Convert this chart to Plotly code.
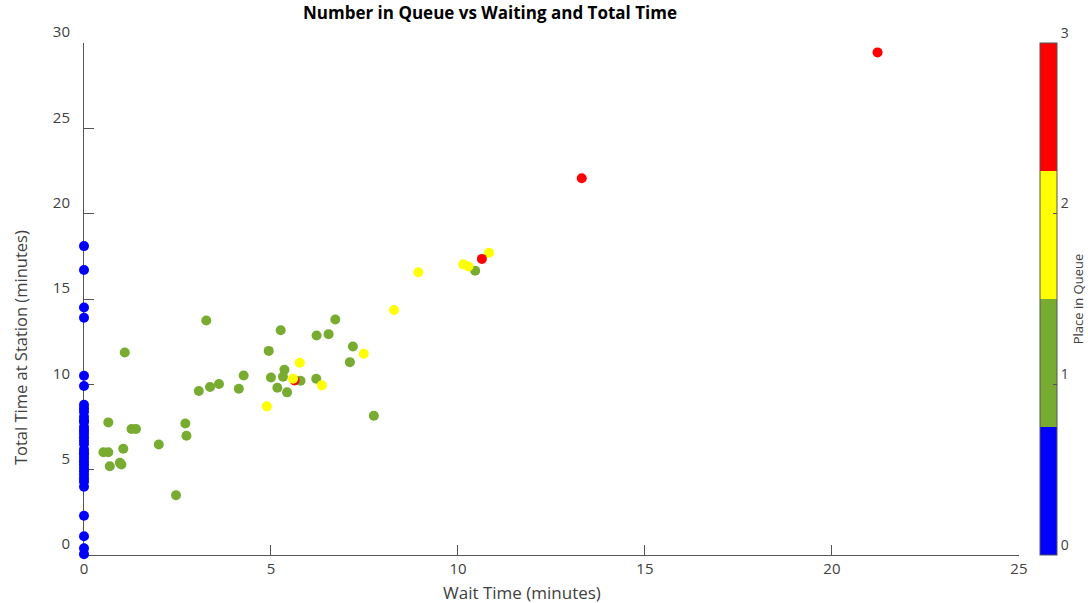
import plotly.graph_objects as go

# Place in queue 0 (no wait): wait time 0
blue_total = [18.1, 16.7, 14.5, 13.9, 10.5, 9.9,
              8.8, 8.6, 8.4, 8.1, 7.9, 7.8, 7.5, 7.3, 7.1, 6.9, 6.7, 6.5,
              6.2, 6.0, 5.9, 5.7, 5.5, 5.3, 5.1, 4.9, 4.7, 4.5, 4.3, 4.0,
              2.3, 1.1, 0.4, 0.05]
blue_wait = [0.0] * len(blue_total)

# Place in queue 1
green_wait = [1.09, 3.27, 3.07, 3.37, 3.61, 0.65, 1.27, 1.39, 2.71, 2.74, 2.0, 1.05,
              0.52, 0.65, 0.69, 0.96, 1.0, 2.46, 6.72, 5.26, 6.22, 6.54, 4.94, 7.19,
              7.11, 4.27, 4.14, 5.0, 5.36, 5.32, 6.21, 5.79, 5.17, 5.43, 7.75, 10.46]
green_total = [11.87, 13.74, 9.61, 9.84, 10.02, 7.77, 7.38, 7.38, 7.71, 6.99, 6.47, 6.23,
               6.02, 6.02, 5.2, 5.4, 5.3, 3.5, 13.8, 13.17, 12.86, 12.94, 11.96, 12.22,
               11.3, 10.52, 9.74, 10.4, 10.85, 10.44, 10.33, 10.21, 9.8, 9.53, 8.16, 16.66]

# Place in queue 2
yellow_wait = [7.48, 5.77, 5.59, 6.36, 4.89, 8.29, 8.94, 10.14, 10.28, 10.83]
yellow_total = [11.79, 11.26, 10.33, 9.94, 8.71, 14.36, 16.57, 17.03, 16.9, 17.71]

# Place in queue 3
red_wait = [5.63, 13.31, 10.64, 21.22]
red_total = [10.23, 22.08, 17.35, 29.45]

wait = blue_wait + green_wait + red_wait[:1] + yellow_wait + red_wait[1:]
total = blue_total + green_total + red_total[:1] + yellow_total + red_total[1:]
place = ([0] * len(blue_wait) + [1] * len(green_wait) + [3] +
         [2] * len(yellow_wait) + [3] * (len(red_wait) - 1))

cb_ticks = [0, 1, 2, 3]

BLUE, GREEN, YELLOW, RED = "#0000FF", "#77AC30", "#FFFF00", "#FF0000"
colorscale = [[0, BLUE], [0.25, BLUE], [0.25, GREEN], [0.5, GREEN],
              [0.5, YELLOW], [0.75, YELLOW], [0.75, RED], [1, RED]]

FONT = "Open Sans"
GREY = "#404040"

fig = go.Figure(go.Scatter(
    x=wait, y=total, mode="markers", cliponaxis=False,
    marker=dict(size=10, color=place, cmin=0, cmax=3, colorscale=colorscale,
                line=dict(width=0),
                colorbar=dict(
                    x=1040 / 1088, xanchor="left", xref="container", xpad=0,
                    y=0.5, yanchor="middle", yref="paper", ypad=0,
                    len=1, lenmode="fraction",
                    thickness=17, outlinecolor="#555555", outlinewidth=1,
                    tickvals=cb_ticks, ticktext=[str(t) for t in cb_ticks],
                    ticks="inside", ticklen=4, tickcolor="#555555",
                    ticklabelposition="outside top",
                    tickfont=dict(family=FONT, size=14, color=GREY),
                    title=dict(text="Place in Queue", side="right",
                               font=dict(family=FONT, size=13, color=GREY)),
                )),
    hoverinfo="x+y"))

axis_common = dict(showgrid=False, zeroline=False, showline=True,
                   linecolor="#555555", linewidth=1, ticks="inside", ticklen=10,
                   tickcolor="#555555", layer="below traces",
                   tickfont=dict(family=FONT, size=15, color=GREY))

fig.update_layout(
    width=1088, height=603,
    margin=dict(l=84, r=68, t=43, b=48),
    paper_bgcolor="white", plot_bgcolor="white",
    showlegend=False,
    title=dict(text="<b>Number in Queue vs Waiting and Total Time</b>",
               x=490 / 1088, xanchor="center", xref="container",
               y=1 - 13 / 603, yanchor="middle", yref="container",
               font=dict(family=FONT, size=17, color="black")),
    xaxis=dict(range=[0, 25], tickvals=[0, 5, 10, 15, 20, 25], **axis_common),
    yaxis=dict(range=[0, 30], tickvals=[0, 5, 10, 15, 20, 25, 30],
               ticklabelposition="outside top", ticklabelstandoff=10,
               **axis_common),
    annotations=[
        dict(text="Wait Time (minutes)", xref="paper", yref="paper",
             x=(523 - 84) / 936, y=-(592 - 555) / 512, xanchor="center",
             yanchor="middle", showarrow=False,
             font=dict(family=FONT, size=17, color=GREY)),
        dict(text="Total Time at Station (minutes)", xref="paper", yref="paper",
             x=-(84 - 20) / 936, y=(555 - 348) / 512, xanchor="center",
             yanchor="middle", showarrow=False, textangle=-90,
             font=dict(family=FONT, size=16.5, color=GREY)),
    ],
)

fig.write_html("out.html")
